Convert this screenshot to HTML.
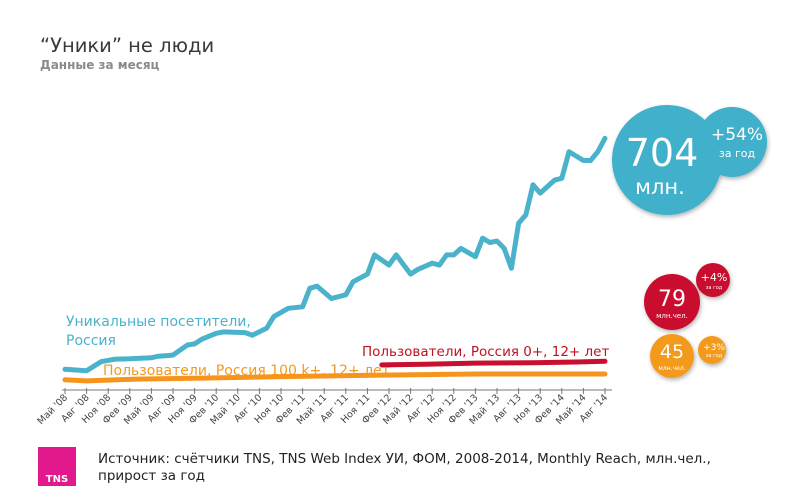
<!DOCTYPE html>
<html><head><meta charset="utf-8"><style>
body{margin:0;width:800px;height:500px;background:#fff;overflow:hidden;font-family:"DejaVu Sans","Liberation Sans",sans-serif}
</style></head><body>
<svg id="c" width="800" height="500" viewBox="0 0 800 500" xmlns="http://www.w3.org/2000/svg" font-family="DejaVu Sans, Liberation Sans, sans-serif">
<defs>
<filter id="sh" x="-30%" y="-30%" width="160%" height="160%"><feDropShadow dx="1" dy="2" stdDeviation="2" flood-color="#000" flood-opacity="0.3"/></filter>
</defs>
<text x="40" y="52" font-size="19.5" fill="#3a3a3a">“Уники” не люди</text>
<text x="40" y="69" font-size="12" font-weight="bold" fill="#8a8a8a">Данные за месяц</text>
<g id="axis"></g>
<g id="series"></g>
<text x="66" y="326" font-size="14" fill="#4ab3cb">Уникальные посетители,</text>
<text x="66" y="345" font-size="14" fill="#4ab3cb">Россия</text>
<text x="362" y="356" font-size="13.5" fill="#c0121f">Пользователи, Россия 0+, 12+ лет</text>
<text x="103" y="375" font-size="14" fill="#f39a1e">Пользователи, Россия 100 k+, 12+ лет</text>
<g filter="url(#sh)">
<circle cx="667" cy="160" r="55" fill="#3fb0cb"/>
<circle cx="732" cy="142" r="35" fill="#3fb0cb"/>
</g>
<text x="662" y="166" font-size="38" fill="#fff" text-anchor="middle">704</text>
<text x="660" y="194" font-size="21" fill="#fff" text-anchor="middle">млн.</text>
<text x="737" y="140" font-size="17" fill="#fff" text-anchor="middle">+54%</text>
<text x="737" y="157" font-size="11" fill="#fff" text-anchor="middle">за год</text>
<g filter="url(#sh)">
<circle cx="672" cy="302" r="28" fill="#c8102e"/>
<circle cx="713" cy="280" r="17" fill="#c8102e"/>
</g>
<text x="672" y="306" font-size="22" fill="#fff" text-anchor="middle">79</text>
<text x="672" y="318" font-size="7" fill="#fff" text-anchor="middle">млн.чел.</text>
<text x="714" y="281" font-size="11" fill="#fff" text-anchor="middle">+4%</text>
<text x="714" y="289" font-size="5" fill="#fff" text-anchor="middle">за год</text>
<g filter="url(#sh)">
<circle cx="672" cy="356" r="22" fill="#f39a1e"/>
<circle cx="712" cy="350" r="14" fill="#f39a1e"/>
</g>
<text x="672" y="358" font-size="19" fill="#fff" text-anchor="middle">45</text>
<text x="672" y="370" font-size="6" fill="#fff" text-anchor="middle">млн.чел.</text>
<text x="714" y="350" font-size="9" fill="#fff" text-anchor="middle">+3%</text>
<text x="714" y="357" font-size="5" fill="#fff" text-anchor="middle">за год</text>
<rect x="38" y="447" width="38" height="39" fill="#e2198c"/>
<text x="57" y="482" font-size="10" font-weight="bold" fill="#fff" text-anchor="middle">TNS</text>
<text x="98" y="463" font-size="13.5" fill="#222">Источник: счётчики TNS, TNS Web Index УИ, ФОМ, 2008-2014, Monthly Reach, млн.чел.,</text>
<text x="98" y="480" font-size="13.5" fill="#222">прирост за год</text>
</svg>
<script>
const tickLabels=["Май '08","Авг '08","Ноя '08","Фев '09","Май '09","Авг '09","Ноя '09","Фев '10","Май '10","Авг '10","Ноя '10","Фев '11","Май '11","Авг '11","Ноя '11","Фев '12","Май '12","Авг '12","Ноя '12","Фев '13","Май '13","Авг '13","Ноя '13","Фев '14","Май '14","Авг '14"];
const tealMonths=[0,3,5,7,9,12,13,15,17,18,19,21,22,25,26,28,29,31,33,34,35,37,39,40,42,43,45,46,48,49,51,52,53,54,55,57,58,59,60,61,62,63,64,65,66,68,69,70,72,73,74,75];
const tealValues=[68,64,89,96,97,100,104,107,135,138,151,167,171,169,162,181,213,236,240,291,297,263,273,309,330,383,355,383,330,343,360,355,383,383,401,378,429,417,421,401,346,470,493,576,553,589,594,667,643,643,667,704];
const redMonths=[44,50,57,65,71,75];
const redValues=[80,82,85,86,88,90];
const orangeMonths=[0,3,10,20,30,44,57,75];
const orangeValues=[39,36,41,44,48,52,55,55];
const NS="http://www.w3.org/2000/svg";
function xs(m){return 65+m*7.2;}
function ys(v){return 394-v*(255.7/704);}
const axis=document.getElementById('axis');
const base=document.createElementNS(NS,'line');
base.setAttribute('x1',62);base.setAttribute('x2',612);base.setAttribute('y1',390);base.setAttribute('y2',390);
base.setAttribute('stroke','#777');base.setAttribute('stroke-width','1');


axis.appendChild(base);
tickLabels.forEach((t,i)=>{
  const x=xs(i*3);
  const tk=document.createElementNS(NS,'line');
  tk.setAttribute('x1',x);tk.setAttribute('x2',x);tk.setAttribute('y1',388);tk.setAttribute('y2',394);
  tk.setAttribute('stroke','#777');
  
  
  axis.appendChild(tk);
  const tx=document.createElementNS(NS,'text');
  tx.setAttribute('x',x+3);tx.setAttribute('y',398);
  tx.setAttribute('font-size','9.5');tx.setAttribute('fill','#444');tx.setAttribute('text-anchor','end');
  tx.setAttribute('transform','rotate(-45 '+(x+3)+' 398)');
  tx.textContent=t;
  
  
  axis.appendChild(tx);
});
const g=document.getElementById('series');
function line(ms,vs,color,w,name){
  const p=document.createElementNS(NS,'polyline');
  p.setAttribute('points',ms.map((m,i)=>xs(m).toFixed(1)+','+ys(vs[i]).toFixed(1)).join(' '));
  p.setAttribute('fill','none');p.setAttribute('stroke',color);p.setAttribute('stroke-width',w);
  p.setAttribute('stroke-linejoin','round');p.setAttribute('stroke-linecap','round');
  
  
  g.appendChild(p);
}
line(orangeMonths,orangeValues,'#f7941d',5,'orange-series-line');
line(redMonths,redValues,'#c8102e',5,'red-series-line');
line(tealMonths,tealValues,'#4ab3cb',5,'teal-series-line');
</script>
</body></html>
